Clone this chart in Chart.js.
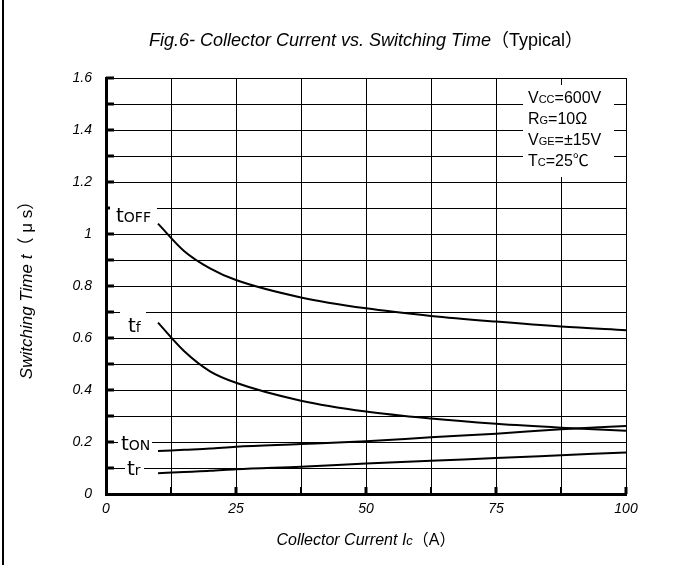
<!DOCTYPE html>
<html>
<head>
<meta charset="utf-8">
<script src="https://cdn.jsdelivr.net/npm/chart.js@4.4.1/dist/chart.umd.min.js"></script>
<style>
  html, body { margin: 0; padding: 0; background: #fff; }
  #wrap { width: 691px; height: 565px; position: relative; }
</style>
</head>
<body>
<div id="wrap"><canvas id="chart" width="691" height="565"></canvas></div>
<script>
// Fig.6 - collector current vs. switching time (typical)
const current = [10, 15, 20, 25, 37.5, 50, 62.5, 75, 87.5, 100];
const tOff = [1.04, 0.935, 0.868, 0.823, 0.756, 0.714, 0.685, 0.663, 0.644, 0.630];
const tF   = [0.659, 0.550, 0.472, 0.428, 0.359, 0.317, 0.290, 0.270, 0.255, 0.243];
const tOn  = [0.165, 0.170, 0.175, 0.182, 0.192, 0.203, 0.218, 0.232, 0.249, 0.262];
const tR   = [0.080, 0.085, 0.089, 0.095, 0.105, 0.117, 0.128, 0.138, 0.149, 0.160];

const xTickLabels = ['0', '25', '50', '75', '100'];
const yTickLabels = ['0', '0.2', '0.4', '0.6', '0.8', '1', '1.2', '1.4', '1.6'];

// condition box lines: [symbol, subscript, rest]
const conditions = [
  ['V', 'CC', '=600V'],
  ['R', 'G', '=10Ω'],
  ['V', 'GE', '=±15V'],
  ['T', 'C', '=25℃']
];

const FONT = '"Liberation Sans", Arial, "Noto Sans CJK JP", sans-serif';
const WIDE = '"DejaVu Sans", "Liberation Sans", sans-serif';

function series(vals) {
  return {
    data: current.map((x, i) => ({ x: x, y: vals[i] })),
    borderColor: '#000',
    borderWidth: 2,
    pointRadius: 0,
    cubicInterpolationMode: 'monotone',
    fill: false
  };
}

// draw text made of pieces with different fonts on one baseline
function drawParts(ctx, parts, x, y) {
  ctx.textBaseline = 'alphabetic';
  ctx.textAlign = 'left';
  parts.forEach(p => {
    ctx.font = p.font;
    ctx.fillText(p.t, x, y);
    x += ctx.measureText(p.t).width;
  });
  return x;
}
function partsWidth(ctx, parts) {
  let w = 0;
  parts.forEach(p => { ctx.font = p.font; w += ctx.measureText(p.t).width; });
  return w;
}

const decorations = {
  id: 'decorations',
  afterDatasetsDraw(chart) {
    const { ctx, chartArea: a, scales: { x, y } } = chart;
    ctx.save();
    ctx.fillStyle = '#000';

    // inward tick marks
    for (let k = 1; k <= 16; k++) {
      const py = y.getPixelForValue(k * 0.1);
      ctx.fillRect(a.left, py - 1.5, 8, 3);
    }
    for (let k = 1; k <= 8; k++) {
      const px = x.getPixelForValue(k * 12.5);
      const w = k % 2 === 0 ? 3 : 2;
      ctx.fillRect(px - w / 2, a.bottom - 7, w, 7);
    }

    // curve labels (white patches over grid)
    const big = '20px ' + WIDE, small = '14px ' + WIDE;
    const labels = [
      { parts: [{ t: 't', font: big }, { t: 'OFF', font: small }], x: 116, base: 222, box: [110, 202, 47, 28] },
      { parts: [{ t: 't', font: big }, { t: 'f', font: small }], x: 128, base: 332, box: [120, 306, 26, 28] },
      { parts: [{ t: 't', font: big }, { t: 'ON', font: small }], x: 121, base: 450, box: [118, 433, 34, 19] },
      { parts: [{ t: 't', font: big }, { t: 'r', font: small }], x: 127, base: 475, box: [125, 458, 19, 17] }
    ];
    labels.forEach(l => {
      ctx.fillStyle = '#fff';
      ctx.fillRect(l.box[0], l.box[1], l.box[2], l.box[3]);
      ctx.fillStyle = '#000';
      drawParts(ctx, l.parts, l.x, l.base);
    });

    // conditions box
    ctx.fillStyle = '#fff';
    ctx.fillRect(523, 85, 91, 92);
    ctx.fillStyle = '#000';
    conditions.forEach((c, i) => {
      drawParts(ctx, [
        { t: c[0], font: '16px ' + FONT },
        { t: c[1], font: '11px ' + FONT },
        { t: c[2], font: '16px ' + FONT }
      ], 528, 103 + i * 21);
    });

    // title
    const titleParts = [
      { t: 'Fig.6- Collector Current vs. Switching Time', font: 'italic 18px ' + FONT },
      { t: '（Typical）', font: '18px ' + FONT }
    ];
    drawParts(ctx, titleParts, 366 - partsWidth(ctx, titleParts) / 2, 46);

    // x axis title
    const xParts = [
      { t: 'Collector Current I', font: 'italic 16px ' + FONT },
      { t: 'c', font: 'italic 13px ' + FONT },
      { t: '（A）', font: '16px ' + FONT }
    ];
    drawParts(ctx, xParts, (a.left + a.right) / 2 - partsWidth(ctx, xParts) / 2, 545);

    // y axis title
    const yParts = [
      { t: 'Switching Time t', font: 'italic 17px ' + FONT },
      { t: '（ μ s）', font: '17px ' + FONT }
    ];
    ctx.translate(32, (a.top + a.bottom) / 2);
    ctx.rotate(-Math.PI / 2);
    drawParts(ctx, yParts, -partsWidth(ctx, yParts) / 2, 0);
    ctx.restore();

    // outer frame line on the left
    ctx.save();
    ctx.fillStyle = '#000';
    ctx.fillRect(2, 0, 2, chart.height);
    ctx.restore();
  }
};

new Chart(document.getElementById('chart'), {
  type: 'line',
  data: { datasets: [series(tOff), series(tF), series(tOn), series(tR)] },
  options: {
    responsive: false,
    animation: false,
    layout: { padding: { left: 0, top: 78, right: 65, bottom: 0 } },
    plugins: { legend: { display: false }, tooltip: { enabled: false }, title: { display: false } },
    scales: {
      x: {
        type: 'linear', min: 0, max: 100,
        afterFit: s => { s.height = 71; },
        ticks: {
          stepSize: 12.5, autoSkip: false, maxRotation: 0, padding: 7, color: '#000',
          font: { family: FONT, style: 'italic', size: 14 },
          callback: v => (v % 25 === 0 ? xTickLabels[v / 25] : '')
        },
        grid: { color: '#000', lineWidth: 1, drawTicks: false },
        border: { color: '#000', width: 3 }
      },
      y: {
        min: 0, max: 1.6,
        afterFit: s => { s.width = 106; },
        ticks: {
          stepSize: 0.1, autoSkip: false, padding: 14, color: '#000',
          font: { family: FONT, style: 'italic', size: 14 },
          callback: v => {
            const r = Math.round(v * 10);
            return r % 2 === 0 ? yTickLabels[r / 2] : '';
          }
        },
        grid: { color: '#000', lineWidth: 1, drawTicks: false },
        border: { color: '#000', width: 3 }
      }
    }
  },
  plugins: [decorations]
});
</script>
</body>
</html>
